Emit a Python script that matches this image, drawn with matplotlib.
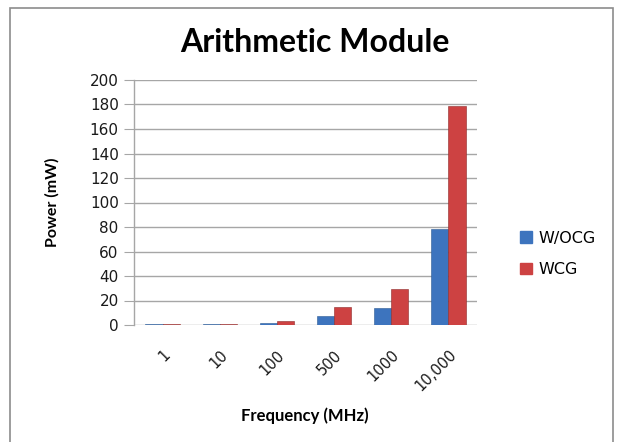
import matplotlib.pyplot as plt
import matplotlib.patches as mpatches
import numpy as np

# ── data ─────────────────────────────────────────────────────────────────────
frequencies = ["1", "10", "100", "500", "1000", "10,000"]
wocg = [0.5, 0.6, 2.0, 7.0, 14.0, 78.0]
wcg = [0.6, 0.7, 3.5, 14.5, 29.0, 179.0]
yticks = [0, 20, 40, 60, 80, 100, 120, 140, 160, 180, 200]

BLUE = "#3D74BE"
RED = "#CD4242"
GRID = "#A6A6A6"

fig = plt.figure(figsize=(6.18, 4.42), dpi=100)
fig.patch.set_facecolor("white")

# chart-area border like the Excel frame
fig.patches.append(mpatches.Rectangle(
    (10 / 618, -0.05), 603 / 618, 1.05 - 8 / 442,
    transform=fig.transFigure, fill=False, edgecolor="#8C8C8C", linewidth=1.2))

ax = fig.add_axes([134 / 618, 1 - 325 / 442, (477 - 134) / 618, (325 - 80) / 442])

x = np.arange(len(frequencies))
w = 0.3
ax.bar(x - w / 2, wocg, w, color=BLUE, edgecolor="#2C5A94", linewidth=0.4, zorder=3, label="W/OCG")
ax.bar(x + w / 2, wcg, w, color=RED, edgecolor="#8E2B2A", linewidth=0.4, zorder=3, label="WCG")

ax.set_xlim(-0.5, len(frequencies) - 0.5)
ax.set_ylim(0, 200)
ax.set_yticks(yticks)
ax.set_yticklabels([str(v) for v in yticks], fontsize=11, color="#1a1a1a")
ax.yaxis.grid(True, color=GRID, linewidth=1.0, zorder=0)
ax.set_axisbelow(True)

ax.set_xticks(x)
ax.set_xticklabels(frequencies, rotation=45, ha="right", va="top",
                   rotation_mode="anchor", fontsize=10.5, color="#1a1a1a")
ax.tick_params(axis="x", length=0, pad=16)
ax.tick_params(axis="y", length=7, color=GRID, pad=4)

for side in ["top", "right", "bottom"]:
    ax.spines[side].set_visible(False)
ax.spines["left"].set_color(GRID)
ax.spines["left"].set_linewidth(1.0)

ax.set_ylabel("Power (mW)", fontsize=11.5, fontweight="bold", family="Lato", labelpad=22)
fig.text(305 / 618, 1 - 416 / 442, "Frequency (MHz)", ha="center", va="center",
         fontsize=12, fontweight="bold", family="Lato")
fig.text(315 / 618, 1 - 42 / 442, "Arithmetic Module", ha="center", va="center",
         fontsize=23, fontweight="bold", family="Lato")

handles = [mpatches.Patch(color=BLUE, label="W/OCG"), mpatches.Patch(color=RED, label="WCG")]
fig.legend(handles=handles, loc="center left", bbox_to_anchor=(506 / 618, 1 - 254 / 442),
           frameon=False, fontsize=11.5, handlelength=0.75, handleheight=0.7,
           handletextpad=0.4, labelspacing=1.05)

fig.savefig("out.png", dpi=100, facecolor="white")
